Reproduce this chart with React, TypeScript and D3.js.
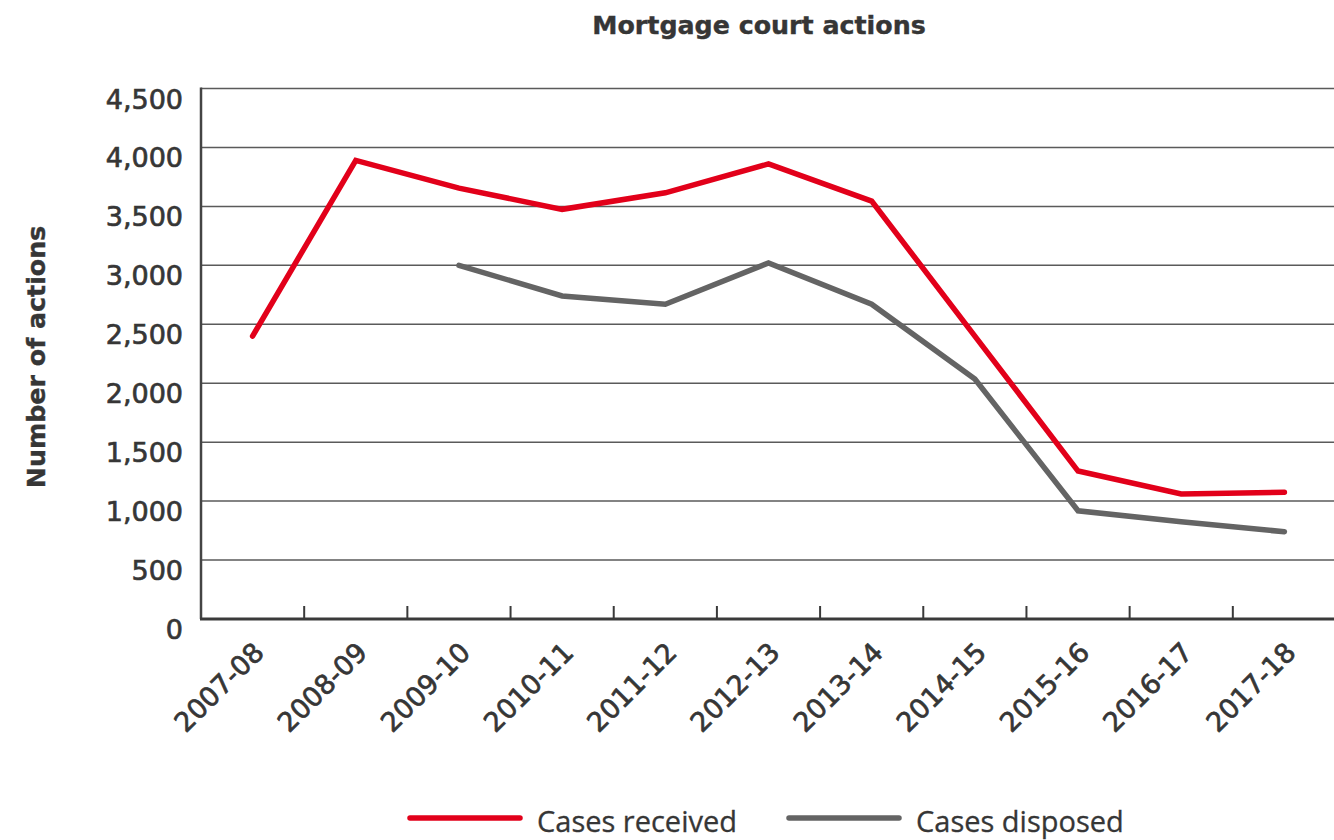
import React from "react";
import * as d3 from "d3";

const categories = ["2007-08", "2008-09", "2009-10", "2010-11", "2011-12", "2012-13", "2013-14", "2014-15", "2015-16", "2016-17", "2017-18"];
const casesReceived: (number | null)[] = [2400, 3890, 3655, 3475, 3615, 3860, 3545, 2400, 1255, 1060, 1075];
const casesDisposed: (number | null)[] = [null, null, 3000, 2740, 2670, 3020, 2670, 2035, 918, 825, 740];
const yTicks = [0, 500, 1000, 1500, 2000, 2500, 3000, 3500, 4000, 4500];
const seriesNames = ["Cases received", "Cases disposed"];
const title = "Mortgage court actions";
const yTitle = "Number of actions";

const W = 1334;
const H = 840;
const M = { left: 201, right: 1336, top: 88.5, bottom: 619 };
const RED = "#e2001a";
const GREY = "#646464";
const TXT = "#363636";

export default function App() {
  const x = d3.scaleBand<string>().domain(categories).range([M.left, M.right]).padding(0);
  const y = d3.scaleLinear().domain([0, 4500]).range([M.bottom, M.top]);
  const cx = (c: string) => (x(c) as number) + x.bandwidth() / 2;

  const line = d3
    .line<number | null>()
    .defined((d) => d != null)
    .x((_, i) => cx(categories[i]))
    .y((d) => y(d as number));

  const fmt = d3.format(",");
  const tickXs = categories.slice(1).map((c) => x(c) as number);

  return (
    <svg width={W} height={H} style={{ position: "absolute", left: 0, top: 0, background: "#fff" }}>
      <rect x={0} y={0} width={W} height={H} fill="#fff" />
      <text x={759} y={33.5} textAnchor="middle" fontFamily="DejaVu Sans" fontWeight="bold" fontSize={25.3} fill={TXT} stroke={TXT} strokeWidth={0.4}>
        {title}
      </text>
      <text
        transform={`translate(45,357) rotate(-90)`}
        textAnchor="middle"
        fontFamily="DejaVu Sans"
        fontWeight="bold"
        fontSize={25.3}
        fill={TXT}
        stroke={TXT}
        strokeWidth={0.4}
      >
        {yTitle}
      </text>
      {yTicks.slice(1).map((t) => (
        <line key={"g" + t} x1={M.left} x2={M.right} y1={y(t)} y2={y(t)} stroke="#5a5a5a" strokeWidth={1.5} />
      ))}
      {yTicks.map((t) => (
        <text key={"yl" + t} x={183} y={y(t) + 20} textAnchor="end" fontFamily="DejaVu Sans" fontSize={27} fill={TXT} stroke={TXT} strokeWidth={0.7}>
          {fmt(t)}
        </text>
      ))}
      <line x1={M.left} x2={M.left} y1={M.top - 1} y2={M.bottom} stroke="#444" strokeWidth={2.5} />
      <line x1={M.left - 1} x2={M.right} y1={M.bottom} y2={M.bottom} stroke="#3a3a3a" strokeWidth={3} />
      {tickXs.map((tx, i) => (
        <line key={"t" + i} x1={tx} x2={tx} y1={M.bottom} y2={M.bottom - 13} stroke="#3a3a3a" strokeWidth={2} />
      ))}
      {categories.map((c) => (
        <text
          key={"xl" + c}
          transform={`translate(${cx(c) + 13},654) rotate(-45)`}
          textAnchor="end"
          fontFamily="DejaVu Sans"
          fontSize={27}
          fill={TXT}
          stroke={TXT}
          strokeWidth={0.7}
        >
          {c}
        </text>
      ))}
      <path d={line(casesDisposed) || ""} fill="none" stroke={GREY} strokeWidth={5.5} strokeLinecap="round" strokeLinejoin="miter" />
      <path d={line(casesReceived) || ""} fill="none" stroke={RED} strokeWidth={5.5} strokeLinecap="round" strokeLinejoin="miter" />
      <line x1={410} x2={520} y1={818} y2={818} stroke={RED} strokeWidth={5.5} strokeLinecap="round" />
      <text x={537} y={832} fontFamily="Open Sans" fontSize={29} fill={TXT} stroke={TXT} strokeWidth={0.3}>
        {seriesNames[0]}
      </text>
      <line x1={789} x2={899} y1={818} y2={818} stroke={GREY} strokeWidth={5.5} strokeLinecap="round" />
      <text x={916} y={832} fontFamily="Open Sans" fontSize={29} fill={TXT} stroke={TXT} strokeWidth={0.3}>
        {seriesNames[1]}
      </text>
    </svg>
  );
}
